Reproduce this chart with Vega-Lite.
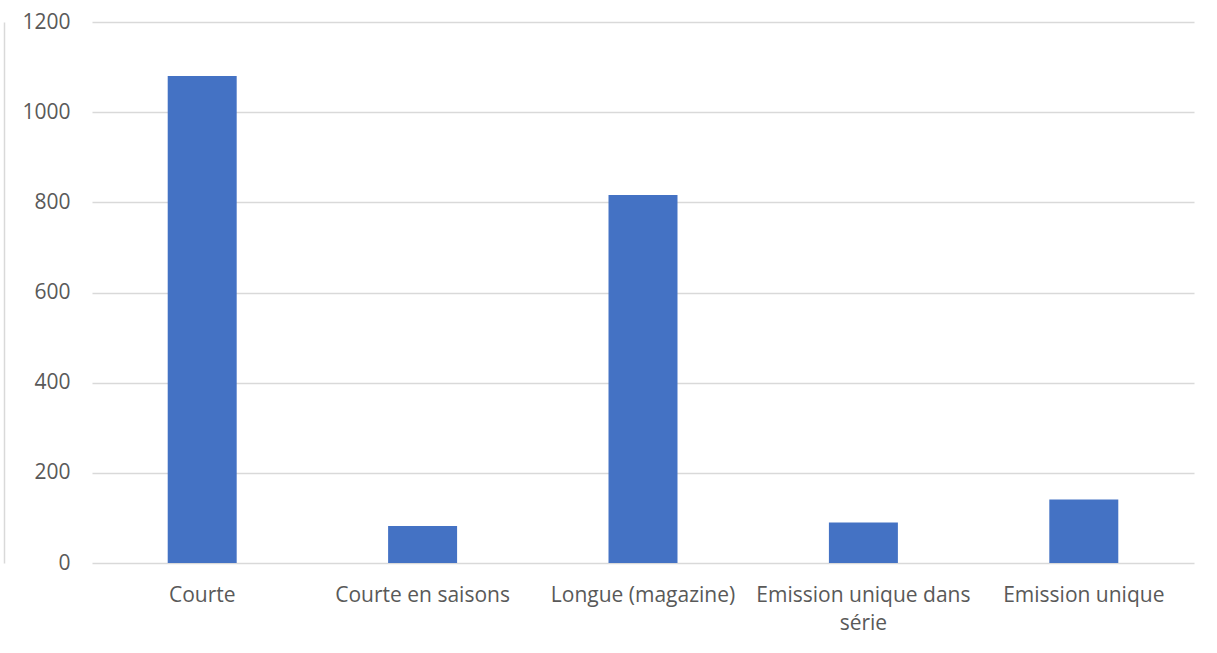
{
  "$schema": "https://vega.github.io/schema/vega-lite/v6.json",
  "autosize": "none",
  "width": 1102,
  "height": 541,
  "padding": {"left": 92, "top": 22, "right": 23, "bottom": 90},
  "background": "white",
  "config": {
    "view": {"stroke": null},
    "font": "Open Sans"
  },
  "data": {
    "values": [
      {"type": "Courte", "count": 1080},
      {"type": "Courte en saisons", "count": 82},
      {"type": "Longue (magazine)", "count": 816},
      {"type": "Emission unique dans série", "count": 90},
      {"type": "Emission unique", "count": 141}
    ]
  },
  "layer": [
    {
      "mark": {"type": "bar", "color": "#4472C4"},
      "encoding": {
        "x": {
          "field": "type",
          "type": "nominal",
          "sort": null,
          "scale": {"paddingInner": 0.687, "paddingOuter": 0.3435},
          "axis": {
            "title": null,
            "labelAngle": 0,
            "labelFontSize": 21,
            "labelColor": "#595959",
            "labelPadding": 21,
            "labelLineHeight": 28,
            "labelLimit": 300,
            "domain": false,
            "ticks": false,
            "labelExpr": "datum.label == 'Emission unique dans série' ? ['Emission unique dans', 'série'] : datum.label"
          }
        },
        "y": {
          "field": "count",
          "type": "quantitative",
          "scale": {"domain": [0, 1200]},
          "axis": {
            "title": null,
            "values": [0, 200, 400, 600, 800, 1000, 1200],
            "format": "d",
            "labelFontSize": 21,
            "labelColor": "#595959",
            "labelPadding": 22,
            "domain": false,
            "ticks": false,
            "grid": true,
            "gridColor": "#d9d9d9",
            "gridWidth": 1.5
          }
        }
      }
    },
    {
      "mark": {"type": "point", "opacity": 0},
      "encoding": {
        "x": {"field": "type", "type": "nominal", "sort": null},
        "y": {
          "field": "count",
          "type": "quantitative",
          "axis": {
            "orient": "left",
            "title": null,
            "labels": false,
            "ticks": false,
            "grid": false,
            "domain": true,
            "domainColor": "#d9d9d9",
            "domainWidth": 1.5,
            "offset": 88
          }
        }
      }
    }
  ],
  "resolve": {"axis": {"y": "independent"}}
}
